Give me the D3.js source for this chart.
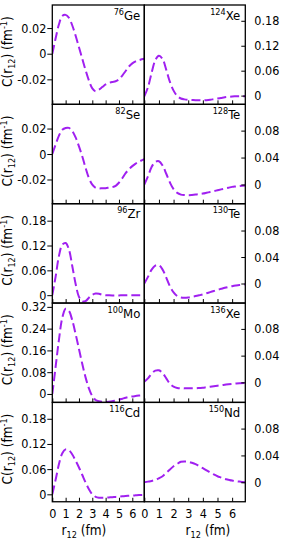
<!DOCTYPE html>
<html>
<head>
<meta charset="utf-8">
<script src="https://cdn.jsdelivr.net/npm/d3@7"></script>
<style>
  html, body { margin: 0; padding: 0; background: #fff; }
  svg { display: block; }
  text { font-family: "DejaVu Sans Condensed", "DejaVu Sans", sans-serif; fill: #000; }
</style>
</head>
<body>
<svg id="chart" width="289" height="552"></svg>
<script>
// ---------------- data ----------------
const rGrid = [0,0.25,0.5,0.75,1.0,1.25,1.5,1.75,2.0,2.25,2.5,2.75,3.0,3.25,3.5,3.75,4.0,4.25,4.5,4.75,5.0,5.25,5.5,5.75,6.0,6.25,6.5,6.9];

// left column nuclei
const ge76  = [0,0.012,0.023,0.0295,0.0303,0.028,0.022,0.014,0.005,-0.004,-0.013,-0.021,-0.027,-0.0293,-0.028,-0.026,-0.024,-0.0228,-0.022,-0.0215,-0.020,-0.017,-0.0135,-0.010,-0.0075,-0.006,-0.005,-0.004];
const se82  = [0,0.0075,0.0145,0.019,0.0205,0.0205,0.018,0.013,0.006,-0.002,-0.011,-0.019,-0.024,-0.0265,-0.027,-0.0269,-0.0268,-0.0264,-0.026,-0.025,-0.0225,-0.019,-0.015,-0.012,-0.0095,-0.0075,-0.006,-0.004];
const zr96  = [0,0.045,0.095,0.122,0.126,0.11,0.07,0.027,-0.004,-0.015,-0.014,-0.006,0.001,0.004,0.0035,0.001,0.0,-0.0003,-0.0005,-0.0005,-0.0005,-0.0004,-0.0004,-0.0003,-0.0003,-0.0002,-0.0002,-0.0002];
const mo100 = [0,0.1,0.2,0.28,0.313,0.305,0.27,0.22,0.165,0.11,0.06,0.02,-0.008,-0.022,-0.027,-0.029,-0.0295,-0.0288,-0.027,-0.024,-0.021,-0.0175,-0.014,-0.011,-0.009,-0.0075,-0.006,-0.005];
const cd116 = [0,0.035,0.072,0.098,0.107,0.105,0.095,0.08,0.064,0.046,0.028,0.012,0.0,-0.006,-0.008,-0.008,-0.0078,-0.0073,-0.0068,-0.0062,-0.0055,-0.0048,-0.004,-0.0035,-0.003,-0.0024,-0.0018,-0.0012];

// right column nuclei
const xe124 = [-0.002,0.02,0.055,0.085,0.096,0.088,0.062,0.033,0.012,-0.001,-0.007,-0.009,-0.010,-0.0105,-0.011,-0.0113,-0.0115,-0.011,-0.010,-0.0085,-0.007,-0.0055,-0.004,-0.003,-0.002,-0.0017,-0.0015,-0.0015];
const te128 = [0,0.012,0.026,0.0335,0.0345,0.028,0.016,0.003,-0.007,-0.0125,-0.015,-0.0157,-0.0158,-0.0155,-0.015,-0.0143,-0.0135,-0.0123,-0.011,-0.0098,-0.0085,-0.0072,-0.006,-0.0048,-0.0035,-0.0028,-0.0022,-0.0015];
const te130 = [0,0.01,0.021,0.027,0.0275,0.021,0.009,-0.004,-0.0135,-0.019,-0.021,-0.0215,-0.021,-0.020,-0.019,-0.0178,-0.0165,-0.0148,-0.013,-0.0113,-0.0095,-0.008,-0.0065,-0.0052,-0.004,-0.003,-0.0022,-0.0015];
const xe136 = [0.001,0.006,0.013,0.0175,0.018,0.014,0.006,-0.002,-0.0065,-0.0085,-0.009,-0.009,-0.009,-0.0089,-0.0088,-0.0084,-0.008,-0.0072,-0.0065,-0.0058,-0.005,-0.0042,-0.0035,-0.0028,-0.0022,-0.0017,-0.0013,-0.001];
const nd150 = [0,0.001,0.002,0.0035,0.006,0.009,0.014,0.019,0.024,0.0275,0.0305,0.031,0.0305,0.029,0.027,0.024,0.021,0.0178,0.0145,0.0117,0.009,0.007,0.005,0.0037,0.0025,0.0017,0.001,0.0];

const leftMass  = ["76","82","96","100","116"];
const leftElem  = ["Ge","Se","Zr","Mo","Cd"];
const rightMass = ["124","128","130","136","150"];
const rightElem = ["Xe","Te","Te","Xe","Nd"];
const leftSeries  = [ge76, se82, zr96, mo100, cd116];
const rightSeries = [xe124, te128, te130, xe136, nd150];

const leftDomains  = [[-0.0395,0.038],[-0.039,0.039],[-0.019,0.221],[-0.031,0.334],[-0.0177,0.219]];
const rightDomains = [[-0.021,0.218],[-0.0285,0.119],[-0.0295,0.1205],[-0.03,0.1187],[-0.029,0.119]];
const leftTicks  = [[-0.02,0,0.02],[-0.02,0,0.02],[0,0.06,0.12,0.18],[0,0.08,0.16,0.24,0.32],[0,0.06,0.12,0.18]];
const rightTicks = [[0,0.06,0.12,0.18],[0,0.04,0.08],[0,0.04,0.08],[0,0.04,0.08],[0,0.04,0.08]];
const xTicks = [0,1,2,3,4,5,6];
const xDomain = [0, 6.9];

// ---------------- layout ----------------
const svg = d3.select("#chart");
const cols = [[52.3,144.3],[144.3,245.3]];
const top0 = 5, rowH = 99.35, nRows = 5;
const purple = "#a020f0";
const fmt = v => (v === 0 ? "0" : String(+v.toFixed(2)));

for (let c = 0; c < 2; c++) {
  const x = d3.scaleLinear().domain(xDomain).range(cols[c]);
  for (let r = 0; r < nRows; r++) {
    const y0 = top0 + r*rowH, y1 = y0 + rowH;
    const dom = c === 0 ? leftDomains[r] : rightDomains[r];
    const y = d3.scaleLinear().domain(dom).range([y1, y0]);
    const vals = c === 0 ? leftSeries[r] : rightSeries[r];
    const g = svg.append("g");

    // clip
    const cid = `clip${c}${r}`;
    svg.append("clipPath").attr("id", cid).append("rect")
      .attr("x", cols[c][0]).attr("y", y0).attr("width", cols[c][1]-cols[c][0]).attr("height", rowH);

    // curve
    const line = d3.line().x((d,i) => x(rGrid[i])).y(d => y(d)).curve(d3.curveCatmullRom.alpha(0.5));
    g.append("path").datum(vals)
      .attr("clip-path", `url(#${cid})`)
      .attr("d", line).attr("fill","none").attr("stroke", purple)
      .attr("stroke-width", 2).attr("stroke-dasharray","9,4");

    // x ticks (inward)
    const xa = d3.axisBottom(x).tickValues(xTicks).tickSize(-4).tickPadding(7)
      .tickFormat(r === nRows-1 ? d3.format("d") : () => "");
    const gx = g.append("g").attr("transform", `translate(0,${y1})`).call(xa);
    gx.select(".domain").remove();
    gx.selectAll("line").attr("stroke","#000").attr("stroke-width",1);
    gx.selectAll("text").attr("font-size", 12.5).attr("font-family", null).attr("fill","#000");

    // y ticks
    const ticks = c === 0 ? leftTicks[r] : rightTicks[r];
    let ya, gy;
    if (c === 0) {
      ya = d3.axisLeft(y).tickValues(ticks).tickSize(5).tickPadding(1).tickFormat(fmt);
      gy = g.append("g").attr("transform", `translate(${cols[c][0]},0)`).call(ya);
    } else {
      ya = d3.axisRight(y).tickValues(ticks).tickSize(-4).tickPadding(9).tickFormat(fmt);
      gy = g.append("g").attr("transform", `translate(${cols[c][1]},0)`).call(ya);
    }
    gy.select(".domain").remove();
    gy.selectAll("line").attr("stroke","#000").attr("stroke-width",1);
    gy.selectAll("text").attr("font-size", 12.5).attr("font-family", null).attr("fill","#000");

    // frame
    g.append("rect").attr("x", cols[c][0]).attr("y", y0)
      .attr("width", cols[c][1]-cols[c][0]).attr("height", rowH)
      .attr("fill","none").attr("stroke","#000").attr("stroke-width",1.3);

    // nucleus label
    const lab = g.append("text").attr("x", cols[c][1] - (c === 0 ? 4 : 5)).attr("y", y0 + 14.5)
      .attr("text-anchor","end");
    lab.append("tspan").attr("font-size", 9).attr("dy", -5).text(c === 0 ? leftMass[r] : rightMass[r]);
    lab.append("tspan").attr("font-size", 13).attr("dy", 5).text(c === 0 ? leftElem[r] : rightElem[r]);
  }
}

// y titles
for (let r = 0; r < nRows; r++) {
  const cy = top0 + r*rowH + rowH/2 - 3;
  const t = svg.append("text").attr("transform", `translate(12,${cy}) rotate(-90)`)
    .attr("text-anchor","middle").attr("font-size", 13.5);
  t.append("tspan").text("C(r");
  t.append("tspan").attr("font-size", 9).attr("dy", 3).text("12");
  t.append("tspan").attr("dy", -3).text(") (fm");
  t.append("tspan").attr("font-size", 9).attr("dy", -5).text("-1");
  t.append("tspan").attr("dy", 5).text(")");
}

// x titles
const xTitleX = [84, 208];
for (let c = 0; c < 2; c++) {
  const t = svg.append("text").attr("x", xTitleX[c]).attr("y", 535)
    .attr("text-anchor","middle").attr("font-size", 13.5);
  t.append("tspan").text("r");
  t.append("tspan").attr("font-size", 9).attr("dy", 3).text("12");
  t.append("tspan").attr("dy", -3).text(" (fm)");
}
</script>
</body>
</html>
